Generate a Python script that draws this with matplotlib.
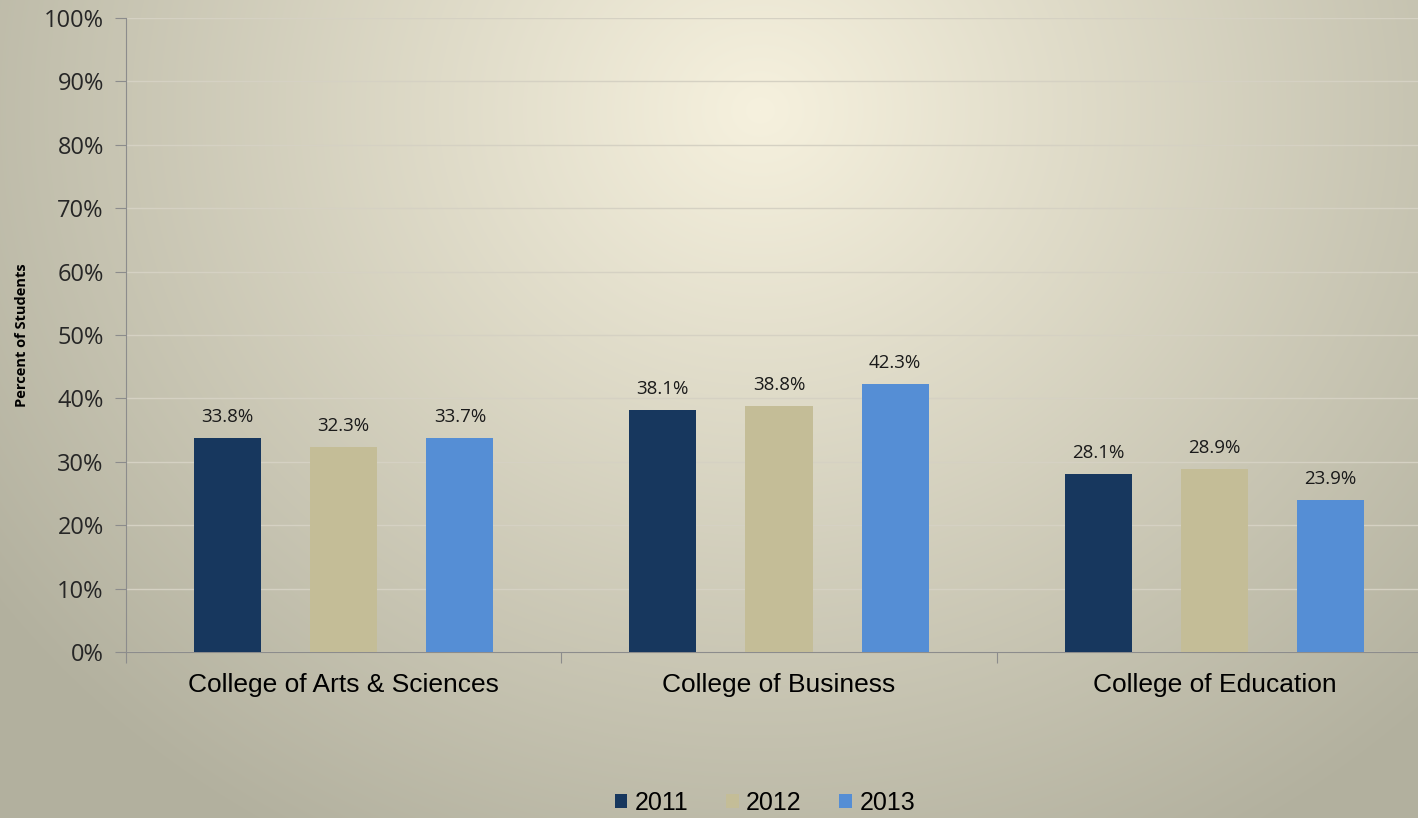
import numpy as np
import matplotlib.pyplot as plt
from matplotlib.ticker import PercentFormatter

# данные
colleges = ['College of Arts & Sciences', 'College of Business', 'College of Education']
years = ['2011', '2012', '2013']
v2011 = [33.8, 38.1, 28.1]
v2012 = [32.3, 38.8, 28.9]
v2013 = [33.7, 42.3, 23.9]
colors = ['#17375E', '#C4BD97', '#558ED5']

W, H = 1418, 818
fig = plt.figure(figsize=(W / 100, H / 100), dpi=100)

# фон: радиальный градиент
bg = fig.add_axes([0, 0, 1, 1], zorder=0)
yy, xx = np.mgrid[0:H, 0:W]
r = np.sqrt(((xx - 760) / 950.0) ** 2 + ((yy - 110) / 850.0) ** 2)
r = np.clip(r, 0, 1)
c_in = np.array([246, 241, 222]) / 255.0
c_out = np.array([178, 176, 158]) / 255.0
img = c_in[None, None, :] * (1 - r[..., None]) + c_out[None, None, :] * r[..., None]
bg.imshow(img, aspect='auto', extent=[0, 1, 0, 1], origin='upper')
bg.axis('off')

x0, x1 = 126 / W, 1432 / W
y0, y1 = 1 - 652 / H, 1 - 18 / H
ax = fig.add_axes([x0, y0, x1 - x0, y1 - y0], zorder=1)
ax.patch.set_alpha(0)

x = np.arange(len(colleges))
bw = 0.154
off = 0.267
for i, (vals, yr) in enumerate(zip([v2011, v2012, v2013], years)):
    pos = x + (i - 1) * off
    bars = ax.bar(pos, vals, bw, color=colors[i], label=yr, zorder=3)
    for b, v in zip(bars, vals):
        ax.text(b.get_x() + b.get_width() / 2, v + 1.9, f'{v:.1f}%',
                ha='center', va='bottom', fontsize=13.5, color='#1a1a1a',
                family='Open Sans')

ax.set_xlim(-0.5, 2.5)
ax.set_ylim(0, 100)
ax.set_yticks(np.arange(0, 101, 10))
ax.yaxis.set_major_formatter(PercentFormatter(decimals=0))
ax.grid(axis='y', color='#D5D1C3', linewidth=1.0, zorder=0)
ax.set_xticks([-0.5, 0.5, 1.5, 2.5])
ax.set_xticklabels([])
ax.set_xticks(x, minor=True)
ax.set_xticklabels(colleges, minor=True, fontsize=19, family='Liberation Sans')
ax.tick_params(axis='x', which='minor', length=0, pad=15)
ax.tick_params(axis='x', which='major', length=8, color='#8C8C8C', direction='out')
ax.tick_params(axis='y', length=8, color='#8C8C8C', direction='out', pad=8,
               labelsize=17, labelcolor='#262626')
for lbl in ax.get_yticklabels():
    lbl.set_family('Open Sans')
for s in ['top', 'right']:
    ax.spines[s].set_visible(False)
for s in ['left', 'bottom']:
    ax.spines[s].set_color('#8C8C8C')

fig.text(22 / W, 1 - 335 / H, 'Percent of Students', rotation=90, ha='center',
         va='center', fontsize=10.5, fontweight='bold', family='Open Sans')

leg = fig.legend(loc='center', bbox_to_anchor=(765 / W, 1 - 803 / H), ncol=3,
                 frameon=False, handlelength=0.5, handleheight=0.5,
                 handletextpad=0.3, columnspacing=1.5,
                 prop={'family': 'Liberation Sans', 'size': 18})

fig.savefig('out.png', dpi=100)
